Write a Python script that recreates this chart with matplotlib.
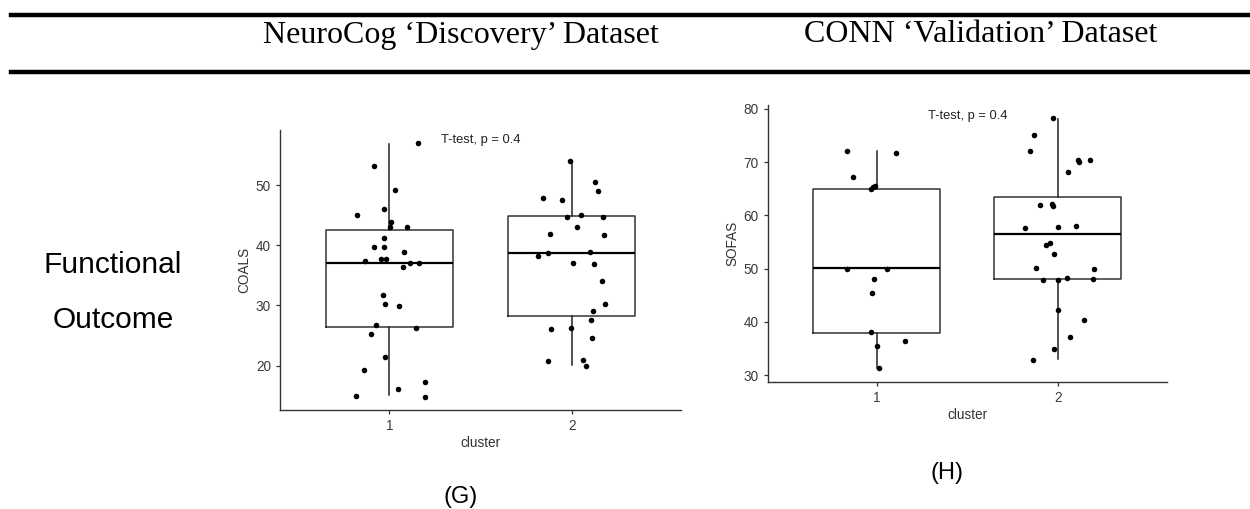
"""Recreate the functional outcome boxplot panels (G) and (H)."""
import matplotlib
matplotlib.use("Agg")
import matplotlib.pyplot as plt
from matplotlib.lines import Line2D

plt.rcParams["font.family"] = ["Liberation Sans", "DejaVu Sans"]

# --- data ------------------------------------------------------------------
clusters = [1, 2]
cluster_labels = ["1", "2"]

# NeuroCog (G): COALS box statistics per cluster
coals_q1 = [26.4, 28.3]
coals_med = [37.1, 38.7]
coals_q3 = [42.5, 44.9]
coals_lo = [15.1, 20.1]
coals_hi = [56.9, 54.1]

# jittered points
coals_x1 = [1.155, 0.918, 1.033, 0.823, 0.973, 1.011, 1.006, 1.095, 0.973, 0.918,
            0.969, 1.079, 0.865, 0.952, 0.980, 1.115, 1.165, 1.075, 0.965, 0.978,
            1.055, 0.929, 1.146, 0.898, 0.978, 0.859, 1.197, 1.049, 0.819, 1.197]
coals_y1 = [57.0, 53.2, 49.2, 45.0, 46.0, 43.9, 43.0, 43.0, 41.2, 39.7,
            39.7, 38.9, 37.4, 37.7, 37.8, 37.1, 37.1, 36.4, 31.8, 30.2,
            29.9, 26.8, 26.3, 25.3, 21.4, 19.2, 17.2, 16.1, 14.9, 14.7]
coals_x2 = [1.991, 2.128, 2.143, 1.845, 1.945, 1.976, 2.051, 2.174, 2.027, 1.881,
            2.177, 1.815, 1.870, 2.101, 2.005, 2.122, 2.168, 2.183, 2.117, 2.106,
            1.885, 1.996, 2.111, 1.872, 2.062, 2.080]
coals_y2 = [54.1, 50.6, 49.1, 47.9, 47.6, 44.7, 45.0, 44.8, 43.1, 41.9,
            41.8, 38.3, 38.7, 38.9, 37.1, 36.9, 34.0, 30.2, 29.0, 27.6,
            26.0, 26.3, 24.5, 20.8, 21.0, 19.9]

# CONN (H): SOFAS box statistics per cluster
sofas_q1 = [38.0, 48.1]
sofas_med = [50.05, 56.6]
sofas_q3 = [65.0, 63.5]
sofas_lo = [31.4, 33.0]
sofas_hi = [72.1, 78.1]

sofas_x1 = [0.835, 1.106, 0.870, 0.967, 0.982, 0.989, 0.839, 1.055, 0.985, 0.976,
            0.971, 1.155, 1.005, 1.011]
sofas_y1 = [72.2, 71.7, 67.3, 65.0, 65.3, 65.5, 50.0, 50.0, 48.1, 45.4,
            38.1, 36.5, 35.5, 31.4]
sofas_x2 = [1.971, 1.870, 1.846, 2.112, 2.117, 2.176, 2.057, 1.901, 1.967, 1.971,
            1.821, 2.002, 2.097, 1.956, 1.932, 1.976, 1.881, 2.197, 1.916, 2.002,
            2.051, 2.192, 2.000, 2.146, 2.069, 1.976, 1.865]
sofas_y2 = [78.4, 75.2, 72.2, 70.4, 70.0, 70.4, 68.2, 62.0, 62.1, 61.8,
            57.7, 57.9, 58.1, 54.9, 54.4, 52.7, 50.1, 50.0, 47.8, 47.8,
            48.2, 48.0, 42.2, 40.3, 37.1, 34.9, 32.8]

p_label = "T-test, p = 0.4"


def draw_panel(ax, q1, med, q3, lo, hi, xs, ys, ylabel, yticks, ylim, label_y):
    stats = [
        {"q1": q1[i], "med": med[i], "q3": q3[i], "whislo": lo[i],
         "whishi": hi[i], "fliers": []}
        for i in range(len(clusters))
    ]
    ax.bxp(
        stats, positions=clusters, widths=0.7, showcaps=False,
        boxprops={"color": "#333333", "linewidth": 1.1},
        whiskerprops={"color": "#222222", "linewidth": 1.1},
        medianprops={"color": "black", "linewidth": 1.6},
        zorder=1,
    )
    for x, y in zip(xs, ys):
        ax.scatter(x, y, s=16, color="black", zorder=3, linewidths=0)
    ax.text(1.5, label_y, p_label, ha="center", va="center", fontsize=9.3,
            color="#222222")
    ax.set_xlim(0.4, 2.6)
    ax.set_ylim(*ylim)
    ax.set_xticks(clusters)
    ax.set_xticklabels(cluster_labels)
    ax.set_yticks(yticks)
    for side in ("top", "right"):
        ax.spines[side].set_visible(False)
    for side in ("left", "bottom"):
        ax.spines[side].set_color("#333333")
        ax.spines[side].set_linewidth(1.0)
    ax.tick_params(labelsize=9.8, colors="#333333", length=3, width=0.9,
                   labelcolor="#3a3a3a")
    ax.set_xlabel("cluster", fontsize=9.8, color="#333333", labelpad=2)
    ax.set_ylabel(ylabel, fontsize=9.8, color="#333333", labelpad=3)


fig = plt.figure(figsize=(12.5, 5.09), dpi=100)

ax_g = fig.add_axes([0.224, 0.1945, 0.3208, 0.5501])
draw_panel(ax_g, coals_q1, coals_med, coals_q3, coals_lo, coals_hi,
           [coals_x1, coals_x2], [coals_y1, coals_y2], "COALS",
           [20, 30, 40, 50], (12.6, 59.2), 57.5)

ax_h = fig.add_axes([0.6142, 0.25, 0.3192, 0.5437])
draw_panel(ax_h, sofas_q1, sofas_med, sofas_q3, sofas_lo, sofas_hi,
           [sofas_x1, sofas_x2], [sofas_y1, sofas_y2], "SOFAS",
           [30, 40, 50, 60, 70, 80], (28.75, 80.75), 78.7)

# header rules and titles
for y in (1 - 14.5 / 509, 1 - 72.2 / 509):
    fig.add_artist(Line2D([0.009, 1.0], [y, y], color="black", linewidth=3.2,
                          transform=fig.transFigure))
serif = ["Liberation Serif", "DejaVu Serif"]
fig.text(461 / 1250, 1 - 35 / 509, "NeuroCog \u2018Discovery\u2019 Dataset",
         family=serif, fontsize=23, ha="center", va="center")
fig.text(981 / 1250, 1 - 35 / 509, "CONN \u2018Validation\u2019 Dataset",
         family=serif, fontsize=23, ha="center", va="center")

fig.text(113 / 1250, 1 - 265 / 509, "Functional", fontsize=21.5,
         ha="center", va="center")
fig.text(113 / 1250, 1 - 320 / 509, "Outcome", fontsize=21.5,
         ha="center", va="center")
fig.text(461 / 1250, 1 - 496.5 / 509, "(G)", fontsize=17, ha="center",
         va="center")
fig.text(947.5 / 1250, 1 - 473 / 509, "(H)", fontsize=17, ha="center",
         va="center")

fig.savefig("out.png", dpi=100)
